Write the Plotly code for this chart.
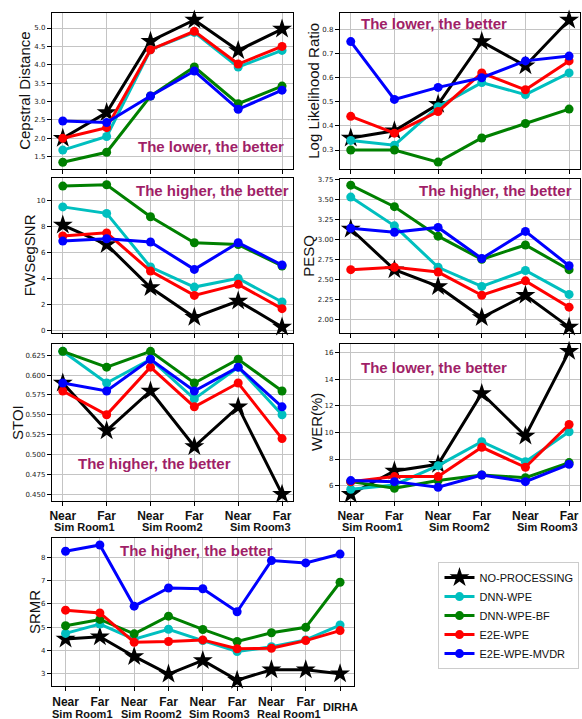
import plotly.graph_objects as go

W, H = 582, 719

methods = ["NO-PROCESSING", "DNN-WPE", "DNN-WPE-BF", "E2E-WPE", "E2E-WPE-MVDR"]
colors = ["#000000", "#00BFBF", "#008000", "#FF0000", "#0000FF"]
symbols = ["star", "circle", "circle", "circle", "circle"]

sim_ticks = ["Near", "Far", "Near", "Far", "Near", "Far"]
sim_groups = ["Sim Room1", "Sim Room2", "Sim Room3"]
srmr_ticks = ["Near", "Far", "Near", "Far", "Near", "Far", "Near", "Far", ""]
srmr_groups = ["Sim Room1", "Sim Room2", "Sim Room3", "Real Room1"]
srmr_last = "DIRHA"

# Cepstral distance
cd_noproc = [2.00, 2.70, 4.64, 5.22, 4.39, 4.97]
cd_dnn = [1.68, 2.05, 4.41, 4.88, 3.94, 4.39]
cd_bf = [1.35, 1.62, 3.15, 3.94, 2.94, 3.42]
cd_e2e = [2.00, 2.29, 4.41, 4.91, 4.02, 4.50]
cd_mvdr = [2.47, 2.43, 3.15, 3.83, 2.79, 3.31]

# Log likelihood ratio
llr_noproc = [0.35, 0.38, 0.49, 0.75, 0.65, 0.84]
llr_dnn = [0.34, 0.32, 0.48, 0.58, 0.53, 0.62]
llr_bf = [0.30, 0.30, 0.25, 0.35, 0.41, 0.47]
llr_e2e = [0.44, 0.37, 0.46, 0.62, 0.55, 0.67]
llr_mvdr = [0.75, 0.51, 0.56, 0.60, 0.67, 0.69]

# FWSegSNR
fws_noproc = [8.1, 6.6, 3.3, 1.0, 2.26, 0.26]
fws_dnn = [9.5, 9.0, 4.87, 3.33, 4.0, 2.18]
fws_bf = [11.1, 11.2, 8.74, 6.74, 6.6, 4.95]
fws_e2e = [7.26, 7.5, 4.56, 2.69, 3.54, 1.67]
fws_mvdr = [6.87, 7.05, 6.8, 4.69, 6.74, 5.03]

# PESQ
pesq_noproc = [3.13, 2.62, 2.41, 2.02, 2.30, 1.90]
pesq_dnn = [3.53, 3.17, 2.65, 2.41, 2.61, 2.31]
pesq_bf = [3.68, 3.41, 3.04, 2.75, 2.93, 2.62]
pesq_e2e = [2.62, 2.65, 2.59, 2.30, 2.48, 2.15]
pesq_mvdr = [3.14, 3.09, 3.15, 2.76, 3.10, 2.67]

# STOI
stoi_noproc = [0.59, 0.53, 0.58, 0.51, 0.56, 0.45]
stoi_dnn = [0.63, 0.59, 0.62, 0.57, 0.61, 0.55]
stoi_bf = [0.63, 0.61, 0.63, 0.59, 0.62, 0.58]
stoi_e2e = [0.58, 0.55, 0.61, 0.56, 0.59, 0.52]
stoi_mvdr = [0.59, 0.58, 0.62, 0.58, 0.61, 0.56]

# WER(%)
wer_noproc = [5.35, 7.1, 7.6, 12.93, 9.73, 16.1]
wer_dnn = [5.73, 6.05, 7.5, 9.3, 7.8, 10.05]
wer_bf = [6.3, 5.8, 6.38, 6.8, 6.6, 7.73]
wer_e2e = [6.3, 6.68, 6.68, 8.88, 7.38, 10.6]
wer_mvdr = [6.38, 6.3, 5.88, 6.8, 6.3, 7.6]

# SRMR
srmr_noproc = [4.49, 4.59, 3.74, 2.98, 3.57, 2.72, 3.17, 3.17, 3.0]
srmr_dnn = [4.73, 5.13, 4.48, 4.91, 4.42, 3.95, 4.16, 4.45, 5.09]
srmr_bf = [5.06, 5.33, 4.71, 5.47, 4.90, 4.38, 4.76, 4.99, 6.93]
srmr_e2e = [5.73, 5.61, 4.35, 4.38, 4.45, 4.07, 4.09, 4.42, 4.85]
srmr_mvdr = [8.26, 8.53, 5.90, 6.68, 6.65, 5.66, 7.86, 7.76, 8.14]

LOWER = "The lower, the better"
HIGHER = "The higher, the better"

panels = [
    dict(data=[cd_noproc, cd_dnn, cd_bf, cd_e2e, cd_mvdr], title="Cepstral Distance",
         box=(50, 292, 10, 167), yr=[1.17, 5.41], tv=[1.5, 2.0, 2.5, 3.0, 3.5, 4.0, 4.5, 5.0], fmt="%.1f",
         note=LOWER, npos=(134, 145), tpos=23, xl=False),
    dict(data=[llr_noproc, llr_dnn, llr_bf, llr_e2e, llr_mvdr], title="Log Likelihood Ratio",
         box=(339, 580, 10, 167), yr=[0.222, 0.869], tv=[0.3, 0.4, 0.5, 0.6, 0.7, 0.8], fmt="%.1f",
         note=LOWER, npos=(358, 21), tpos=313, xl=False),
    dict(data=[fws_noproc, fws_dnn, fws_bf, fws_e2e, fws_mvdr], title="FWSegSNR",
         box=(50, 292, 176, 332), yr=[-0.18, 11.74], tv=[0, 2, 4, 6, 8, 10], fmt="%d",
         note=HIGHER, npos=(132, 189), tpos=27, xl=False),
    dict(data=[pesq_noproc, pesq_dnn, pesq_bf, pesq_e2e, pesq_mvdr], title="PESQ",
         box=(339, 580, 177, 332), yr=[1.83, 3.76], tv=[2.0, 2.25, 2.5, 2.75, 3.0, 3.25, 3.5, 3.75], fmt="%.2f",
         note=HIGHER, npos=(416, 189), tpos=308, xl=False),
    dict(data=[stoi_noproc, stoi_dnn, stoi_bf, stoi_e2e, stoi_mvdr], title="STOI",
         box=(50, 292, 343, 501), yr=[0.442, 0.6397], tv=[0.45, 0.475, 0.5, 0.525, 0.55, 0.575, 0.6, 0.625], fmt="%.3f",
         note=HIGHER, npos=(74, 464), tpos=15, xl=True),
    dict(data=[wer_noproc, wer_dnn, wer_bf, wer_e2e, wer_mvdr], title="WER(%)",
         box=(339, 580, 343, 501), yr=[4.88, 16.68], tv=[6, 8, 10, 12, 14, 16], fmt="%d",
         note=LOWER, npos=(358, 367), tpos=315, xl=True),
    dict(data=[srmr_noproc, srmr_dnn, srmr_bf, srmr_e2e, srmr_mvdr], title="SRMR",
         box=(50, 353, 539, 688), yr=[2.46, 8.82], tv=[3, 4, 5, 6, 7, 8], fmt="%d",
         note=HIGHER, npos=(116, 551), tpos=32, xl=True, srmr=True),
]

NOTE_COLOR = "#A01F68"
fig = go.Figure()
layout = dict(
    width=W, height=H, margin=dict(l=0, r=0, t=0, b=0),
    plot_bgcolor="white", paper_bgcolor="white",
    showlegend=True,
    legend=dict(x=438 / W, y=1 - 563 / H, xanchor="left", yanchor="top",
                bordercolor="#cccccc", borderwidth=1, bgcolor="white",
                font=dict(family="Liberation Sans", size=11, color="#111"),
                itemwidth=30, tracegroupgap=0),
)
annotations = []


def fx(px):
    return px / W


def fy(py):
    return 1 - py / H


for i, p in enumerate(panels):
    n = i + 1
    xa = "x" if n == 1 else f"x{n}"
    ya = "y" if n == 1 else f"y{n}"
    x0, x1, y0, y1 = p["box"]
    is_srmr = p.get("srmr", False)
    cats = list(range(9)) if is_srmr else list(range(6))
    for m, (name, col, sym, vals) in enumerate(zip(methods, colors, symbols, p["data"])):
        fig.add_trace(go.Scatter(
            x=cats, y=vals, mode="lines+markers", name=name,
            line=dict(color=col, width=3),
            marker=dict(symbol=sym, size=15 if sym == "star" else 9, color=col,
                        line=dict(width=0)),
            xaxis=xa, yaxis=ya, showlegend=(i == 0), legendgroup=name,
            cliponaxis=False, hoverinfo="skip",
        ))
    ticktext = srmr_ticks if is_srmr else sim_ticks
    rng = [-0.4, 8.4] if is_srmr else [-0.25, 5.25]
    layout["xaxis" if n == 1 else f"xaxis{n}"] = dict(
        domain=[fx(x0), fx(x1)], anchor=ya, range=rng,
        tickvals=cats, ticktext=[f"<b>{t}</b>" if t else "" for t in ticktext],
        showticklabels=p["xl"],
        tickfont=dict(family="Liberation Sans", size=12, color="#111"),
        ticks="outside", ticklen=4, tickcolor="black", tickwidth=1,
        showline=True, mirror=True, linecolor="black", linewidth=1,
        showgrid=True, gridcolor="#c4c4c4", gridwidth=1, zeroline=False,
        fixedrange=True,
    )
    layout["yaxis" if n == 1 else f"yaxis{n}"] = dict(
        domain=[fy(y1), fy(y0)], anchor=xa, range=p["yr"],
        tickvals=p["tv"], ticktext=[p["fmt"] % v for v in p["tv"]],
        tickfont=dict(family="DejaVu Sans", size=7, color="#222"),
        ticks="outside", ticklen=4, tickcolor="black", tickwidth=1,
        showline=True, mirror=True, linecolor="black", linewidth=1,
        showgrid=True, gridcolor="#c4c4c4", gridwidth=1, zeroline=False,
        fixedrange=True,
    )
    annotations.append(dict(
        text=p["title"], textangle=-90, xref="paper", yref="paper",
        x=fx(p["tpos"]), y=fy((y0 + y1) / 2), xanchor="center", yanchor="middle",
        showarrow=False, font=dict(family="Liberation Sans", size=15, color="#111"),
    ))
    annotations.append(dict(
        text=f"<b>{p['note']}</b>", xref="paper", yref="paper",
        x=fx(p["npos"][0]), y=fy(p["npos"][1]), xanchor="left", yanchor="middle",
        showarrow=False, font=dict(family="Liberation Sans", size=15, color=NOTE_COLOR),
    ))
    if p["xl"]:
        groups = srmr_groups if is_srmr else sim_groups
        gy = 716 if is_srmr else 528
        for g, label in enumerate(groups):
            annotations.append(dict(
                text=f"<b>{label}</b>", xref=xa, yref="paper",
                x=2 * g + 0.5, y=fy(gy), xanchor="center", yanchor="middle",
                showarrow=False, font=dict(family="Liberation Sans", size=11, color="#111"),
            ))
        if is_srmr:
            annotations.append(dict(
                text=f"<b>{srmr_last}</b>", xref=xa, yref="paper",
                x=8, y=fy(709), xanchor="center", yanchor="middle",
                showarrow=False, font=dict(family="Liberation Sans", size=11, color="#111"),
            ))

layout["annotations"] = annotations
fig.update_layout(**layout)

fig.write_html(
    "out.html",
    config={"displayModeBar": False},
    post_script="document.body.style.margin='0';document.body.style.padding='0';"
                "document.body.style.overflow='hidden';",
)
